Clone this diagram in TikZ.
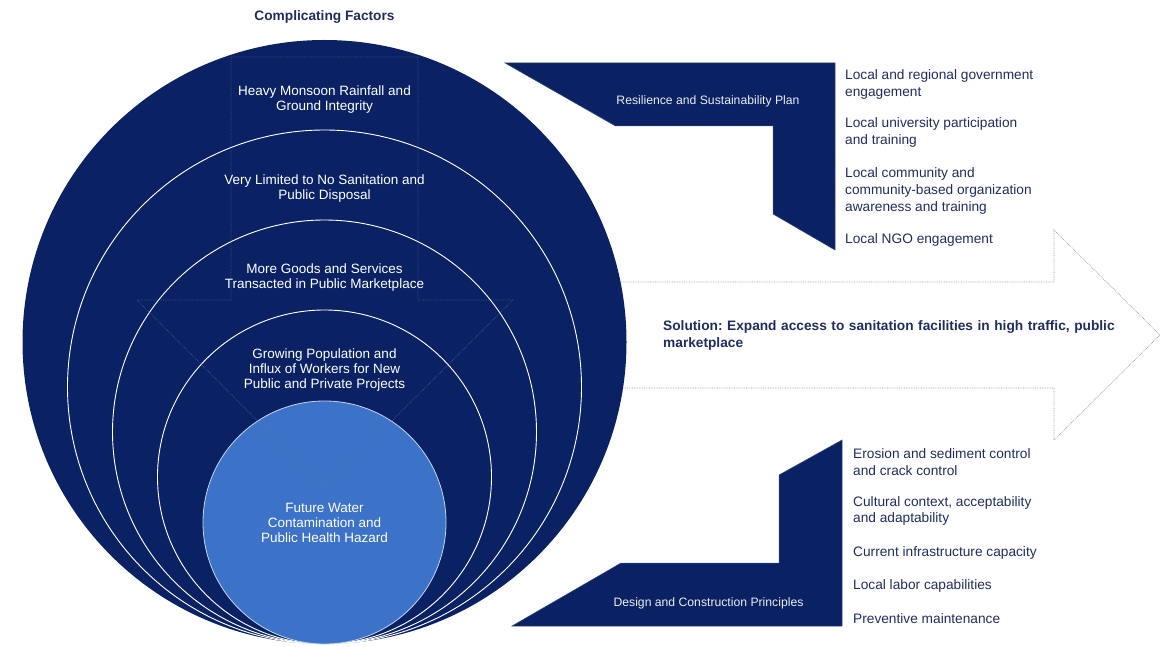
\documentclass[tikz,border=0pt]{standalone}
\usepackage{fontspec}
\setmainfont{Liberation Sans}
\definecolor{navy}{HTML}{0A2264}
\definecolor{lightblue}{HTML}{3C72C8}
\definecolor{txt}{HTML}{1F2D5F}
\definecolor{dotc}{HTML}{8896B8}
\definecolor{vline}{HTML}{6B80B0}
\frenchspacing
\begin{document}
\begin{tikzpicture}[x=1pt,y=-1pt,
  ring/.style={circle, draw=white, line width=0.9pt, fill=navy, inner sep=0pt, minimum size=#1},
  outer/.style={circle, fill=navy, inner sep=0pt, minimum size=#1},
  core/.style={circle, draw=white!70!lightblue, line width=0.8pt, fill=lightblue, inner sep=0pt, minimum size=#1},
  ctext/.style={text=white, align=center, font=\fontsize{13.5}{15}\selectfont, inner sep=0pt},
  listtext/.style={text=txt, align=left, anchor=west, font=\fontsize{13.7}{16.7}\selectfont, inner sep=0pt},
  banner/.style={fill=navy, draw=navy!80!white, line width=0.5pt},
  blabel/.style={text=white!92!navy, font=\fontsize{12.2}{14}\selectfont, inner sep=0pt},
  dotline/.style={draw=dotc, line width=0.7pt, densely dotted},
  vshape/.style={draw=vline, draw opacity=0.55, line width=0.7pt, densely dotted}
]
\useasboundingbox (0,0) rectangle (1168,647);

% solution arrow (behind circles)
\draw[dotline] (560,282) -- (1054,282) -- (1054,230) -- (1160,335) -- (1054,440) -- (1054,388) -- (560,388);

% circles
\node[outer=604pt] (c1) at (324.5,342) {};
\node[ring=514pt] (c2) at (324.5,387) {};
\node[ring=424pt] (c3) at (324.5,432) {};
\node[ring=334pt] (c4) at (324.5,477) {};
\node[core=243pt] (c5) at (324.5,522.5) {};

% faint down arrow
\draw[vshape] (231,57) -- (418,57) -- (418,300) -- (513,300) -- (324.5,488) -- (137,300) -- (231,300) -- cycle;

% circle texts
\node[ctext] (t1) at (324.5,99.5) {Heavy Monsoon Rainfall and\\Ground Integrity};
\node[ctext] (t2) at (324.5,189) {Very Limited to No Sanitation and\\Public Disposal};
\node[ctext] (t3) at (324.5,278) {More Goods and Services\\Transacted in Public Marketplace};
\node[ctext] (t4) at (324.5,370.5) {Growing Population and\\Influx of Workers for New\\Public and Private Projects};
\node[ctext] (t5) at (324.5,522.5) {Future Water\\Contamination and\\Public Health Hazard};

\node[text=txt, font=\bfseries\fontsize{13.7}{16}\selectfont] (title) at (324.5,16.5) {Complicating Factors};

% banners
\draw[banner] (505,63) -- (835,63) -- (835,250) -- (773,214) -- (773,126) -- (615.5,126) -- cycle;
\draw[banner] (842,440) -- (842,626) -- (512,626) -- (621,563) -- (779,563) -- (779,475) -- cycle;
\node[blabel] (b1) at (708,101.5) {Resilience and Sustainability Plan};
\node[blabel] (b2) at (708.5,603.5) {Design and Construction Principles};

% solution text
\node[text=txt, anchor=west, align=left, text width=460pt, inner sep=0pt,
      font=\bfseries\fontsize{13.7}{16.5}\selectfont] (sol) at (663,335.5)
  {Solution: Expand access to sanitation facilities in high traffic, public\\marketplace};

% top list
\node[listtext] (r1) at (845,84.5) {Local and regional government\\engagement};
\node[listtext] (r2) at (845,132.5) {Local university participation\\and training};
\node[listtext] (r3) at (845,191) {Local community and\\community-based organization\\awareness and training};
\node[listtext] (r4) at (845,240) {Local NGO engagement};

% bottom list
\node[listtext] (d1) at (853,462) {Erosion and sediment control\\and crack control};
\node[listtext] (d2) at (853,511) {Cultural context, acceptability\\and adaptability};
\node[listtext] (d3) at (853,553) {Current infrastructure capacity};
\node[listtext] (d4) at (853,585.5) {Local labor capabilities};
\node[listtext] (d5) at (853,618.5) {Preventive maintenance};
\end{tikzpicture}
\end{document}
